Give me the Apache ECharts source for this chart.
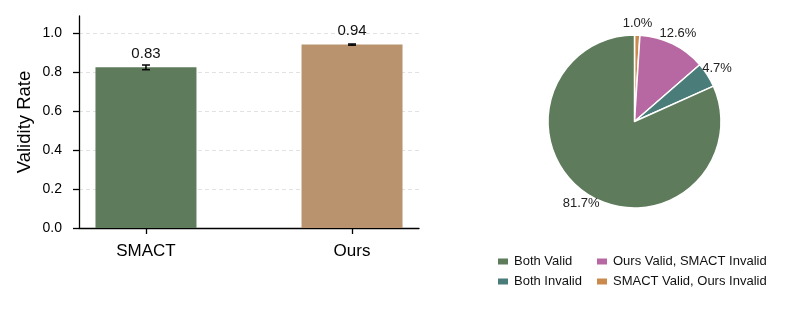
<!DOCTYPE html>
<html>
<head>
<meta charset="utf-8">
<script src="https://cdn.jsdelivr.net/npm/echarts@6/dist/echarts.min.js"></script>
<style>html,body{margin:0;padding:0;background:#fff}#c{width:793px;height:309px}</style>
</head>
<body>
<div id="c"></div>
<script>
// ---- data ----
var categories = ['SMACT', 'Ours'];
var validityRates = [0.826, 0.943];
var validityErrors = [0.012, 0.003];
var yTickValues = [0, 0.2, 0.4, 0.6, 0.8, 1.0];
var pieNames = ['SMACT Valid, Ours Invalid', 'Ours Valid, SMACT Invalid', 'Both Invalid', 'Both Valid'];
var piePercents = [1.0, 12.6, 4.7, 81.7];
var legendCol1 = ['Both Valid', 'Both Invalid'];
var legendCol2 = ['Ours Valid, SMACT Invalid', 'SMACT Valid, Ours Invalid'];

var barColors = ['#5E7B5C', '#B8936E'];
var pieColors = {
  'Both Valid': '#5E7B5C',
  'Both Invalid': '#4A7C7A',
  'Ours Valid, SMACT Invalid': '#B768A2',
  'SMACT Valid, Ours Invalid': '#CB8A4D'
};
var FONT = 'Liberation Sans, Arial, sans-serif';

var barData = validityRates.map(function (v, i) {
  return { value: [i, v], itemStyle: { color: barColors[i] } };
});
var errData = validityRates.map(function (v, i) { return [i, v, validityErrors[i]]; });
var pieData = pieNames.map(function (n, i) {
  return { name: n, value: piePercents[i], itemStyle: { color: pieColors[n] } };
});
var pieLabelData = pieNames.map(function (n, i) {
  return { name: n, value: piePercents[i], itemStyle: { color: 'rgba(0,0,0,0)', borderWidth: 0 } };
});

var chart = echarts.init(document.getElementById('c'), null, { renderer: 'canvas' });
chart.setOption({
  animation: false,
  textStyle: { fontFamily: FONT },
  grid: { left: 79, right: 374, top: 16, bottom: 81 },
  xAxis: {
    type: 'value', min: -0.325, max: 1.325,
    axisLine: { show: true, onZero: false, lineStyle: { color: '#000', width: 1.3 } },
    axisTick: { show: true, customValues: [0, 1], length: 6, lineStyle: { color: '#000', width: 1.3 } },
    axisLabel: { customValues: [0, 1], margin: 15, fontSize: 17, color: '#000', fontFamily: FONT,
      formatter: function (v) { return categories[Math.round(v)]; } },
    splitLine: { show: false }
  },
  yAxis: {
    type: 'value', min: 0, max: 1.09, interval: 0.2,
    name: 'Validity Rate', nameLocation: 'middle', nameGap: 45, nameRotate: 90,
    nameTextStyle: { fontSize: 18.5, color: '#000', fontFamily: FONT },
    axisLine: { show: true, onZero: false, lineStyle: { color: '#000', width: 1.3 } },
    axisTick: { show: true, customValues: yTickValues, length: 6, lineStyle: { color: '#000', width: 1.3 } },
    axisLabel: { customValues: yTickValues, margin: 17, fontSize: 14, color: '#000', fontFamily: FONT,
      formatter: function (v) { return v.toFixed(1); } },
    splitLine: { show: true, showMinLine: false, showMaxLine: true,
      lineStyle: { color: '#e2e2e2', type: [4, 3], width: 1 } }
  },
  legend: [
    { orient: 'vertical', left: 496, top: 255, padding: 0, itemWidth: 12, itemHeight: 8, itemGap: 7,
      icon: 'rect', data: legendCol1, textStyle: { fontSize: 13, color: '#111', fontFamily: FONT } },
    { orient: 'vertical', left: 595, top: 255, padding: 0, itemWidth: 12, itemHeight: 8, itemGap: 7,
      icon: 'rect', data: legendCol2, textStyle: { fontSize: 13, color: '#111', fontFamily: FONT } }
  ],
  series: [
    {
      type: 'bar', data: barData, barWidth: 101,
      label: { show: true, position: 'top', distance: 6, fontSize: 15, color: '#111', fontFamily: FONT,
        formatter: function (p) { return p.value[1].toFixed(2); } },
      z: 2
    },
    {
      type: 'custom', data: errData, z: 5,
      renderItem: function (params, api) {
        var x = api.value(0), v = api.value(1), e = api.value(2);
        var top = api.coord([x, v + e]);
        var bot = api.coord([x, v - e]);
        var cap = 4;
        var st = { stroke: '#000', lineWidth: 1.5 };
        return { type: 'group', children: [
          { type: 'line', shape: { x1: top[0], y1: top[1], x2: bot[0], y2: bot[1] }, style: st },
          { type: 'line', shape: { x1: top[0] - cap, y1: top[1], x2: top[0] + cap, y2: top[1] }, style: st },
          { type: 'line', shape: { x1: bot[0] - cap, y1: bot[1], x2: bot[0] + cap, y2: bot[1] }, style: st }
        ] };
      }
    },
    {
      type: 'pie', center: [634.5, 121.5], radius: 86.5, startAngle: 90, clockwise: true,
      data: pieData, label: { show: false }, labelLine: { show: false },
      itemStyle: { borderColor: '#fff', borderWidth: 1.5 },
      emphasis: { disabled: true }
    },
    {
      type: 'pie', center: [634.5, 121.5], radius: [86, 104], startAngle: 90, clockwise: true,
      data: pieLabelData, silent: true,
      label: { show: true, position: 'inside', fontSize: 13, color: '#222', fontFamily: FONT,
        formatter: function (p) { return p.value.toFixed(1) + '%'; } },
      labelLine: { show: false },
      emphasis: { disabled: true }
    }
  ]
});
</script>
</body>
</html>
